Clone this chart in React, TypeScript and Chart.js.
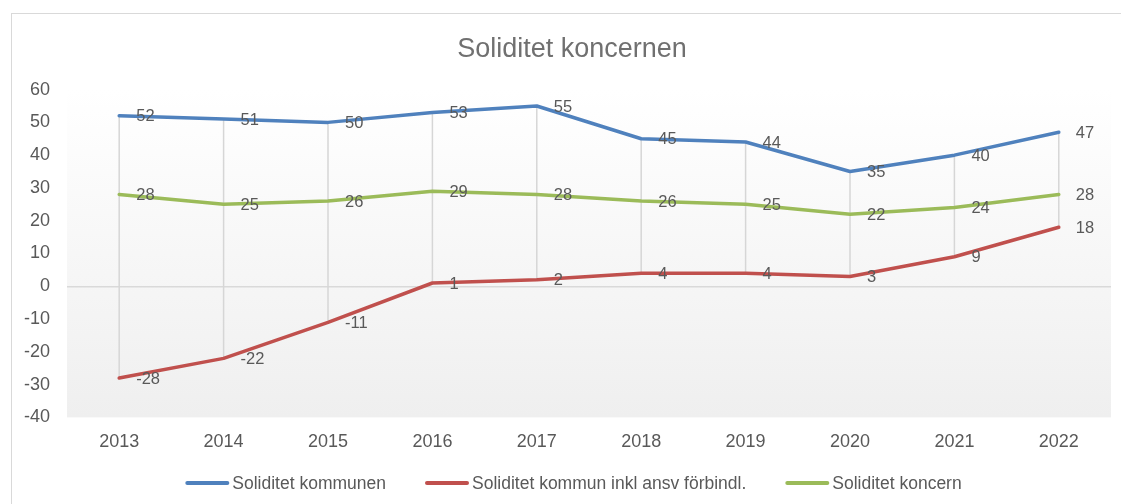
import { useEffect, useRef } from "react";
import { Chart, registerables } from "chart.js";

Chart.register(...registerables);

const categories = ["2013", "2014", "2015", "2016", "2017", "2018", "2019", "2020", "2021", "2022"];
const kommunen = [52, 51, 50, 53, 55, 45, 44, 35, 40, 47];
const kommunInklAnsv = [-28, -22, -11, 1, 2, 4, 4, 3, 9, 18];
const koncern = [28, 25, 26, 29, 28, 26, 25, 22, 24, 28];
const seriesNames = ["Soliditet kommunen", "Soliditet kommun inkl ansv förbindl.", "Soliditet koncern"];
const seriesColors = ["#4F81BD", "#C0504D", "#9BBB59"];
const yMin = -40;
const yMax = 60;
const yStep = 10;
const titleText = "Soliditet koncernen";

const FONT = "'Liberation Sans', Arial, sans-serif";

const bgPlugin = {
  id: "plotBg",
  beforeDraw(chart: any) {
    const { ctx, chartArea } = chart;
    if (!chartArea) return;
    const g = ctx.createLinearGradient(0, chartArea.top, 0, chartArea.bottom);
    g.addColorStop(0, "#ffffff");
    g.addColorStop(1, "#efefef");
    ctx.save();
    ctx.fillStyle = g;
    ctx.fillRect(chartArea.left, chartArea.top, chartArea.right - chartArea.left, chartArea.bottom - chartArea.top);
    ctx.restore();
  },
};

const hiLoPlugin = {
  id: "hiLo",
  beforeDatasetsDraw(chart: any) {
    const { ctx } = chart;
    const metas = chart.data.datasets.map((_: any, i: number) => chart.getDatasetMeta(i));
    const n = chart.data.labels.length;
    ctx.save();
    ctx.strokeStyle = "#d6d6d6";
    ctx.lineWidth = 1.5;
    for (let j = 0; j < n; j++) {
      let top = Infinity;
      let bot = -Infinity;
      let x = 0;
      metas.forEach((m: any) => {
        const p = m.data[j];
        if (!p) return;
        x = p.x;
        top = Math.min(top, p.y);
        bot = Math.max(bot, p.y);
      });
      ctx.beginPath();
      ctx.moveTo(x, top);
      ctx.lineTo(x, bot);
      ctx.stroke();
    }
    ctx.restore();
  },
};

const labelPlugin = {
  id: "valLabels",
  afterDatasetsDraw(chart: any) {
    const { ctx } = chart;
    ctx.save();
    ctx.font = `16.5px ${FONT}`;
    ctx.fillStyle = "#595959";
    ctx.textAlign = "left";
    ctx.textBaseline = "middle";
    chart.data.datasets.forEach((ds: any, i: number) => {
      const m = chart.getDatasetMeta(i);
      m.data.forEach((p: any, j: number) => {
        ctx.fillText(String(ds.data[j]), p.x + 17, p.y + 1);
      });
    });
    ctx.restore();
  },
};

const legendPlugin = {
  id: "customLegend",
  afterDraw(chart: any) {
    const { ctx } = chart;
    const lineW = 42;
    const gap = 4;
    const spacing = 40;
    const cx = 562;
    const cy = 469;
    ctx.save();
    ctx.font = `17.5px ${FONT}`;
    ctx.textBaseline = "middle";
    ctx.textAlign = "left";
    const items = chart.data.datasets.map((ds: any) => ({
      text: ds.label,
      color: ds.borderColor,
      w: lineW + gap + ctx.measureText(ds.label).width,
    }));
    const total = items.reduce((a: number, it: any) => a + it.w, 0) + spacing * (items.length - 1);
    let x = cx - total / 2;
    items.forEach((it: any) => {
      ctx.strokeStyle = it.color;
      ctx.lineWidth = 4;
      ctx.lineCap = "round";
      ctx.beginPath();
      ctx.moveTo(x + 1, cy);
      ctx.lineTo(x + lineW - 1, cy);
      ctx.stroke();
      ctx.fillStyle = "#595959";
      ctx.fillText(it.text, x + lineW + gap, cy + 1);
      x += it.w + spacing;
    });
    ctx.restore();
  },
};

export default function App() {
  const ref = useRef<HTMLCanvasElement | null>(null);

  useEffect(() => {
    if (!ref.current) return;
    const data = [kommunen, kommunInklAnsv, koncern];
    const chart = new Chart(ref.current, {
      type: "line",
      data: {
        labels: categories,
        datasets: data.map((d, i) => ({
          label: seriesNames[i],
          data: d,
          borderColor: seriesColors[i],
          backgroundColor: seriesColors[i],
          borderWidth: 3.5,
          pointRadius: 0,
          tension: 0,
          borderJoinStyle: "round" as const,
          borderCapStyle: "round" as const,
          yAxisID: "y",
        })),
      },
      options: {
        responsive: false,
        animation: false,
        devicePixelRatio: 1,
        layout: { padding: { left: 0, right: 0, top: 0, bottom: 38 } },
        plugins: {
          title: {
            display: true,
            text: titleText,
            color: "#707070",
            font: { family: FONT, size: 27, weight: "normal" },
            padding: { top: 19, bottom: 24.2 },
          },
          legend: { display: false },
          tooltip: { enabled: false },
        },
        scales: {
          x: {
            offset: true,
            grid: { display: false, drawTicks: false },
            border: { display: false },
            ticks: {
              color: "#595959",
              font: { family: FONT, size: 18 },
              padding: 13.5,
              maxRotation: 0,
            },
          },
          y: {
            min: yMin,
            max: yMax,
            position: "left",
            ticks: {
              stepSize: yStep,
              color: "#595959",
              font: { family: FONT, size: 18 },
              padding: 17,
            },
            grid: {
              drawTicks: false,
              lineWidth: 1.5,
              color: (c: any) => (c.tick && c.tick.value === 0 ? "#d9d9d9" : "rgba(0,0,0,0)"),
            },
            border: { display: false },
            afterFit(s: any) {
              s.width = 55;
            },
          },
          y2: {
            position: "right",
            display: true,
            grid: { display: false, drawTicks: false },
            border: { display: false },
            ticks: { display: false },
            afterFit(s: any) {
              s.width = 21;
            },
          },
        },
      },
      plugins: [bgPlugin, hiLoPlugin, labelPlugin, legendPlugin],
    } as any);
    return () => chart.destroy();
  }, []);

  return (
    <div
      style={{
        position: "fixed",
        left: 11,
        top: 13,
        width: 1110,
        height: 491,
        overflow: "hidden",
      }}
    >
      <div
        style={{
          width: 1122,
          height: 500,
          borderTop: "1px solid #d9d9d9",
          borderLeft: "1px solid #d9d9d9",
          background: "#ffffff",
        }}
      >
        <canvas ref={ref} width={1120} height={490} style={{ display: "block" }} />
      </div>
    </div>
  );
}
